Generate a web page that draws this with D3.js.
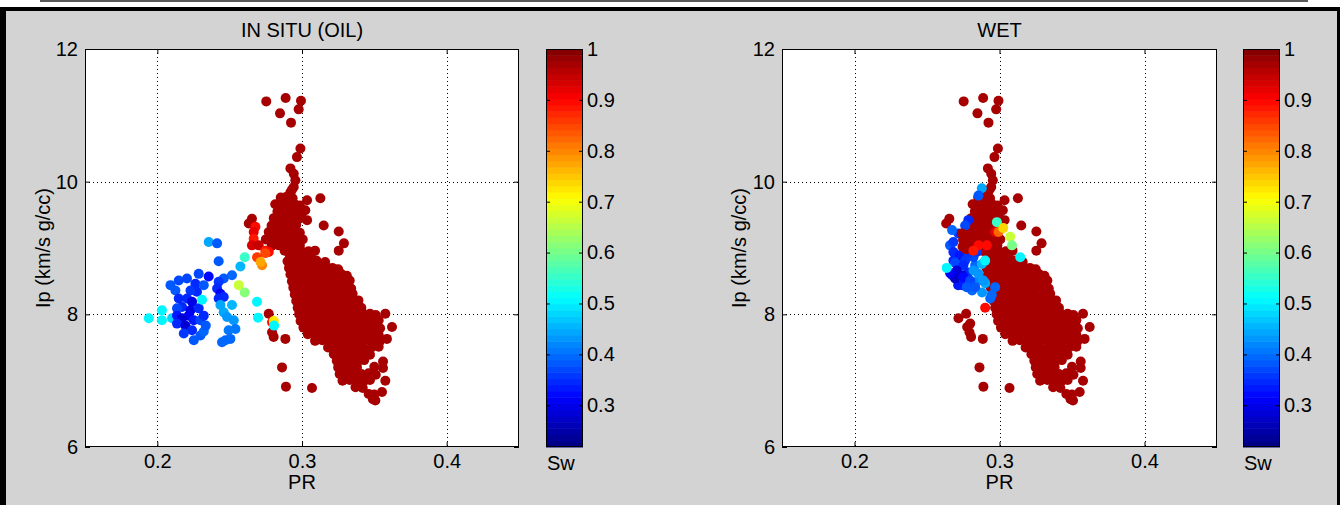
<!DOCTYPE html>
<html><head><meta charset="utf-8">
<script src="https://cdn.jsdelivr.net/npm/d3@7"></script>
<style>
html,body{margin:0;padding:0;background:#fff;}
svg{display:block;}
text{font-family:"Liberation Sans",Arial,sans-serif;fill:#000;}
</style></head><body>
<svg id="chart" width="1340" height="505"></svg>
<script>
// ---------------- DATA ----------------
const panelTitles = ["IN SITU (OIL)", "WET"];
const xLabel = "PR";
const yLabel = "Ip (km/s g/cc)";
const cbLabel = "Sw";
const xDomain = [0.15, 0.45];
const yDomain = [6, 12];
const xTicks = [0.2, 0.3, 0.4];
const yTicks = [6, 8, 10, 12];
const yGrid = [8, 10];
const cbTicks = [0.3, 0.4, 0.5, 0.6, 0.7, 0.8, 0.9, 1];
const cbTickLabels = ["0.3", "0.4", "0.5", "0.6", "0.7", "0.8", "0.9", "1"];
const swRange = [0.218, 1];
const brineSw = 0.975;

// points shared by both panels (brine, Sw ~ 1): [PR, Ip]
const brinePoints = [
 [0.2753,11.21],[0.2887,11.26],[0.2993,11.22],[0.2977,11.09],[0.2848,11.03],[0.2924,10.89],
 [0.2989,10.50],[0.2965,10.37],[0.2920,10.20],[0.2943,10.12],[0.2954,10.02],[0.2943,9.92],[0.2920,9.84],[0.2931,9.88],
 [0.2853,9.76],[0.2890,9.77],[0.2935,9.75],
 [0.2815,9.66],[0.2860,9.67],[0.2905,9.65],[0.2950,9.66],[0.2985,9.64],
 [0.2830,9.55],[0.2875,9.56],[0.2920,9.54],[0.2965,9.55],[0.3000,9.53],
 [0.2805,9.45],[0.2850,9.46],[0.2895,9.44],[0.2940,9.45],[0.2980,9.44],
 [0.2790,9.34],[0.2835,9.35],[0.2880,9.33],[0.2925,9.34],[0.2960,9.35],
 [0.2770,9.24],[0.2815,9.25],[0.2860,9.23],[0.2905,9.24],[0.2950,9.25],[0.2985,9.23],
 [0.2750,9.13],[0.2795,9.14],[0.2840,9.12],[0.2885,9.13],[0.2930,9.14],[0.2970,9.12],[0.3005,9.13],
 [0.2790,9.03],[0.2840,9.04],[0.2890,9.02],[0.2940,9.03],[0.2985,9.04],
 [0.2880,8.96],[0.2935,8.95],[0.2990,8.97],[0.3045,8.95],[0.3090,8.96],
 [0.3035,9.72],[0.3127,9.75],[0.3023,9.57],[0.3035,9.42],[0.3150,9.34],[0.3254,9.25],[0.3290,9.07],[0.3254,8.96],
 [0.2654,9.44],[0.2632,9.37],
 [0.2915,8.90],[0.2965,8.91],[0.3015,8.89],[0.3060,8.90],
 [0.2900,8.80],[0.2950,8.81],[0.3000,8.79],[0.3050,8.80],[0.3100,8.81],[0.3160,8.79],
 [0.2910,8.70],[0.2960,8.71],[0.3010,8.69],[0.3060,8.70],[0.3110,8.71],[0.3160,8.69],[0.3210,8.70],[0.3250,8.68],
 [0.2920,8.60],[0.2970,8.61],[0.3020,8.59],[0.3070,8.60],[0.3120,8.61],[0.3170,8.59],[0.3220,8.60],[0.3270,8.61],[0.3310,8.58],
 [0.2930,8.50],[0.2980,8.49],[0.3030,8.51],[0.3080,8.50],[0.3130,8.49],[0.3180,8.51],[0.3230,8.50],[0.3280,8.49],[0.3330,8.51],
 [0.2940,8.40],[0.2990,8.41],[0.3040,8.39],[0.3090,8.40],[0.3140,8.41],[0.3190,8.39],[0.3240,8.40],[0.3290,8.41],[0.3340,8.39],
 [0.2950,8.30],[0.3000,8.29],[0.3050,8.31],[0.3100,8.30],[0.3150,8.29],[0.3200,8.31],[0.3250,8.30],[0.3300,8.29],[0.3350,8.31],
 [0.2960,8.20],[0.3010,8.21],[0.3060,8.19],[0.3110,8.20],[0.3160,8.21],[0.3210,8.19],[0.3260,8.20],[0.3310,8.21],[0.3360,8.19],[0.3390,8.21],
 [0.2970,8.10],[0.3020,8.09],[0.3070,8.11],[0.3120,8.10],[0.3170,8.09],[0.3220,8.11],[0.3270,8.10],[0.3320,8.09],[0.3370,8.11],[0.3410,8.10],
 [0.2980,8.00],[0.3030,8.01],[0.3080,7.99],[0.3130,8.00],[0.3180,8.01],[0.3230,7.99],[0.3280,8.00],[0.3330,8.01],[0.3380,7.99],[0.3430,8.00],[0.3470,8.01],[0.3510,7.99],
 [0.2990,7.90],[0.3040,7.89],[0.3090,7.91],[0.3140,7.90],[0.3190,7.89],[0.3240,7.91],[0.3290,7.90],[0.3340,7.89],[0.3390,7.91],[0.3440,7.90],[0.3490,7.89],[0.3530,7.91],
 [0.3010,7.80],[0.3060,7.81],[0.3110,7.79],[0.3160,7.80],[0.3210,7.81],[0.3260,7.79],[0.3310,7.80],[0.3360,7.81],[0.3410,7.79],[0.3460,7.80],[0.3500,7.81],[0.3540,7.79],
 [0.3040,7.70],[0.3090,7.69],[0.3140,7.71],[0.3190,7.70],[0.3240,7.69],[0.3290,7.71],[0.3340,7.70],[0.3390,7.69],[0.3440,7.71],[0.3490,7.70],[0.3530,7.69],
 [0.3090,7.60],[0.3140,7.61],[0.3190,7.59],[0.3240,7.60],[0.3290,7.61],[0.3340,7.59],[0.3390,7.60],[0.3440,7.61],[0.3490,7.59],[0.3540,7.60],
 [0.3180,7.50],[0.3230,7.51],[0.3280,7.49],[0.3330,7.50],[0.3380,7.51],[0.3430,7.49],[0.3480,7.50],[0.3530,7.51],
 [0.3220,7.40],[0.3270,7.41],[0.3320,7.39],[0.3370,7.40],[0.3420,7.41],[0.3470,7.39],
 [0.3240,7.30],[0.3290,7.31],[0.3340,7.29],[0.3390,7.30],[0.3430,7.31],[0.3560,7.29],
 [0.3250,7.20],[0.3300,7.21],[0.3350,7.19],[0.3380,7.20],[0.3500,7.21],[0.3560,7.19],
 [0.3260,7.10],[0.3310,7.11],[0.3360,7.09],[0.3410,7.10],[0.3460,7.11],[0.3510,7.09],
 [0.3280,7.00],[0.3330,7.01],[0.3380,6.99],[0.3430,7.00],[0.3470,7.01],[0.3576,7.00],
 [0.3370,6.90],[0.3420,6.89],[0.3553,6.83],
 [0.3461,6.80],[0.3500,6.79],
 [0.3490,6.72],[0.3507,6.70],
 [0.3576,8.01],[0.3622,7.81],[0.3587,7.63],[0.3288,8.56],
 [0.2770,8.01],[0.2793,7.73],[0.2804,7.66],[0.2885,7.63],[0.2862,7.20],[0.2889,6.91],[0.3069,6.89],[0.2943,8.44]
];

// in-situ (oil) panel only: [PR, Ip, Sw]
const oilPoints = [
 [0.1941,7.94,0.50],[0.2032,8.06,0.50],[0.2032,7.91,0.50],[0.2102,7.94,0.48],
 [0.2148,8.51,0.37],[0.2205,8.54,0.37],[0.2263,8.46,0.35],[0.2274,8.34,0.35],[0.2125,8.36,0.38],
 [0.2091,8.44,0.38],[0.2229,8.36,0.36],[0.2321,8.44,0.38],
 [0.2148,8.24,0.35],[0.2205,8.24,0.35],[0.2240,8.19,0.30],[0.2171,8.11,0.35],[0.2229,8.06,0.30],
 [0.2136,8.09,0.37],[0.2217,7.98,0.31],[0.2136,7.98,0.34],
 [0.2286,8.09,0.35],[0.2171,7.94,0.28],[0.2136,7.86,0.35],[0.2194,7.83,0.29],[0.2252,7.91,0.33],
 [0.2298,7.91,0.37],[0.2240,7.76,0.35],[0.2298,7.68,0.38],[0.2321,7.98,0.35],[0.2321,7.74,0.39],
 [0.2252,7.61,0.38],[0.2335,7.83,0.38],[0.2183,7.71,0.36],
 [0.2309,8.22,0.50],
 [0.2286,8.61,0.37],[0.2355,8.57,0.32],[0.2355,9.09,0.44],[0.2413,9.07,0.38],[0.2424,8.80,0.38],
 [0.2516,8.59,0.40],[0.2459,8.54,0.38],[0.2424,8.49,0.36],[0.2413,8.39,0.35],[0.2436,8.31,0.31],
 [0.2424,8.24,0.35],[0.2459,8.26,0.35],[0.2436,8.14,0.44],[0.2516,8.14,0.46],[0.2459,8.03,0.44],
 [0.2482,7.96,0.43],[0.2528,7.91,0.43],[0.2540,7.78,0.41],[0.2493,7.76,0.41],[0.2505,7.63,0.40],
 [0.2447,7.58,0.39],[0.2471,7.61,0.39],
 [0.2574,8.72,0.46],[0.2604,8.86,0.55],[0.2563,8.44,0.66],[0.2604,8.33,0.61],[0.2689,8.19,0.51],[0.2696,7.95,0.50],
 [0.2678,9.32,0.90],[0.2666,9.24,0.92],[0.2666,9.14,0.88],[0.2654,9.04,0.93],[0.2701,9.04,0.95],
 [0.2747,8.96,0.88],[0.2770,8.94,0.90],[0.2747,8.92,0.85],[0.2689,8.86,0.86],[0.2724,8.74,0.80],[0.2713,8.79,0.77],
 [0.2793,7.88,0.90],[0.2805,7.90,0.72],[0.2807,7.83,0.50]
];

// wet panel only: [PR, Ip, Sw]
const wetPoints = [
 [0.2878,9.90,0.44],[0.2855,9.79,0.38],[0.2785,9.42,0.35],[0.2763,9.34,0.37],[0.2717,9.22,0.36],
 [0.2673,9.27,0.39],[0.2659,9.04,0.38],
 [0.2682,9.09,0.36],[0.2682,8.94,0.35],[0.2682,8.81,0.35],[0.2724,8.89,0.33],[0.2731,8.77,0.31],
 [0.2694,8.78,0.37],[0.2763,8.81,0.36],[0.2832,8.74,0.39],[0.2673,8.59,0.35],[0.2742,8.44,0.35],
 [0.2811,8.36,0.40],[0.2880,8.33,0.43],[0.2901,8.47,0.45],[0.2853,8.51,0.42],[0.2784,8.63,0.35],
 [0.2715,8.44,0.33],[0.2694,8.54,0.27],[0.2742,8.59,0.29],
 [0.2751,8.74,0.35],[0.2706,8.66,0.29],[0.2660,8.62,0.31],[0.2751,8.56,0.32],
 [0.2798,8.51,0.37],[0.2774,8.41,0.38],[0.2832,8.41,0.38],[0.2820,8.66,0.43],[0.2855,8.61,0.43],
 [0.2889,8.51,0.43],[0.2878,8.76,0.46],[0.2901,8.81,0.50],[0.2820,8.86,0.37],[0.2786,8.92,0.36],
 [0.2844,8.94,0.36],[0.2970,8.41,0.39],[0.2947,8.29,0.39],[0.2936,8.24,0.40],[0.2636,8.70,0.50],
 [0.2740,9.22,0.975],[0.2750,9.12,0.975],[0.2745,9.02,0.975],[0.2770,8.98,0.975],[0.2790,9.05,0.975],
 [0.2810,8.98,0.975],
 [0.2855,9.04,0.90],[0.2913,9.04,0.90],[0.2820,8.96,0.88],[0.2901,8.10,0.90],
 [0.2982,9.39,0.55],[0.2970,9.24,0.92],[0.2993,9.24,0.82],[0.3026,9.30,0.74],[0.3074,9.17,0.66],
 [0.3086,9.04,0.60],[0.3143,8.86,0.50],
 [0.2717,7.94,0.975],[0.2798,7.86,0.975],[0.2777,7.81,0.975]
];

// ---------------- LAYOUT ----------------
const W = 1340, H = 505;
const plotTop = 49, plotBottom = 447, cbW = 37, markerR = 5;
const bg = "#d3d3d3";
const panels = [
  {title: panelTitles[0], x0: 85,  x1: 519,  cbX: 546,  ylabX: 50,  pts: oilPoints},
  {title: panelTitles[1], x0: 782, x1: 1217, cbX: 1243, ylabX: 746, pts: wetPoints}
];

function clamp(v){ return Math.max(0, Math.min(1, v)); }
function jet(t){
  const r = clamp(Math.min(4*t-1.5, -4*t+4.5));
  const g = clamp(Math.min(4*t-0.5, -4*t+3.5));
  const b = clamp(Math.min(4*t+0.5, -4*t+2.5));
  return d3.rgb(r*255, g*255, b*255).formatHex();
}
const nColors = 64;
function swColor(sw){
  const t = (sw - swRange[0]) / (swRange[1] - swRange[0]);
  const i = Math.max(0, Math.min(nColors-1, Math.floor(t*nColors)));
  return jet((i+0.5)/nColors);
}

const svg = d3.select("#chart");
// frame
svg.append("rect").attr("x",40).attr("y",0).attr("width",1268).attr("height",2).attr("fill","#5a5a5a");
svg.append("rect").attr("x",0).attr("y",7).attr("width",W).attr("height",H-7).attr("fill","#000");
svg.append("rect").attr("x",6).attr("y",11).attr("width",W-9).attr("height",H-11).attr("fill",bg);

const FONT = 20;

panels.forEach(p => {
  const x = d3.scaleLinear().domain(xDomain).range([p.x0, p.x1]);
  const y = d3.scaleLinear().domain(yDomain).range([plotBottom, plotTop]);
  const g = svg.append("g");

  g.append("rect").attr("x",p.x0).attr("y",plotTop).attr("width",p.x1-p.x0).attr("height",plotBottom-plotTop).attr("fill","#fff");

  // grid
  g.selectAll(null).data(xTicks).enter().append("line")
    .attr("x1",d=>Math.round(x(d))+0.5).attr("x2",d=>Math.round(x(d))+0.5)
    .attr("y1",plotTop).attr("y2",plotBottom)
    .attr("stroke","#000").attr("stroke-width",1).attr("stroke-dasharray","1,3");
  g.selectAll(null).data(yGrid).enter().append("line")
    .attr("y1",d=>Math.round(y(d))+0.5).attr("y2",d=>Math.round(y(d))+0.5)
    .attr("x1",p.x0).attr("x2",p.x1)
    .attr("stroke","#000").attr("stroke-width",1).attr("stroke-dasharray","1,3");

  // points
  g.append("g").selectAll("circle").data(brinePoints).enter().append("circle")
    .attr("cx",d=>x(d[0])).attr("cy",d=>y(d[1])).attr("r",markerR).attr("fill",swColor(brineSw));
  g.append("g").selectAll("circle").data(p.pts).enter().append("circle")
    .attr("cx",d=>x(d[0])).attr("cy",d=>y(d[1])).attr("r",markerR).attr("fill",d=>swColor(d[2]));

  // axes
  const styleAxis = sel => {
    sel.select(".domain").remove();
    sel.attr("font-size",FONT).attr("font-family","'Liberation Sans',Arial,sans-serif");
    sel.selectAll(".tick line").attr("stroke","#000");
    sel.selectAll(".tick text").attr("fill","#000");
  };
  g.append("g").attr("transform",`translate(0,${plotBottom})`)
    .call(d3.axisBottom(x).tickValues(xTicks).tickSizeInner(-5).tickSizeOuter(0).tickPadding(7).tickFormat(d3.format(".1f")))
    .call(styleAxis);
  g.append("g").attr("transform",`translate(0,${plotTop})`)
    .call(d3.axisTop(x).tickValues(xTicks).tickSizeInner(-5).tickSizeOuter(0).tickFormat(""))
    .call(styleAxis);
  g.append("g").attr("transform",`translate(${p.x0},0)`)
    .call(d3.axisLeft(y).tickValues(yTicks).tickSizeInner(-5).tickSizeOuter(0).tickPadding(7).tickFormat(d3.format("d")))
    .call(styleAxis);
  g.append("g").attr("transform",`translate(${p.x1},0)`)
    .call(d3.axisRight(y).tickValues(yTicks).tickSizeInner(-5).tickSizeOuter(0).tickFormat(""))
    .call(styleAxis);

  g.append("rect").attr("x",p.x0+0.5).attr("y",plotTop+0.5).attr("width",p.x1-p.x0-1).attr("height",plotBottom-plotTop-1)
    .attr("fill","none").attr("stroke","#000").attr("stroke-width",1);

  // labels
  g.append("text").attr("x",(p.x0+p.x1)/2).attr("y",37).attr("text-anchor","middle").attr("font-size",FONT).text(p.title);
  g.append("text").attr("x",(p.x0+p.x1)/2).attr("y",489).attr("text-anchor","middle").attr("font-size",FONT).text(xLabel);
  g.append("text").attr("transform",`translate(${p.ylabX},${(plotTop+plotBottom)/2}) rotate(-90)`)
    .attr("text-anchor","middle").attr("font-size",FONT).text(yLabel);

  // colorbar
  const cb = d3.scaleLinear().domain(swRange).range([plotBottom, plotTop]);
  const bands = d3.range(nColors).map(i => swRange[0] + (swRange[1]-swRange[0])*i/nColors);
  const step = (swRange[1]-swRange[0])/nColors;
  g.append("g").selectAll("rect").data(bands).enter().append("rect")
    .attr("x",p.cbX).attr("width",cbW)
    .attr("y",d=>cb(d+step)).attr("height",d=>cb(d)-cb(d+step)+0.5)
    .attr("fill",d=>swColor(d+step/2));
  g.append("g").attr("transform",`translate(${p.cbX+cbW},0)`)
    .call(d3.axisRight(cb).tickValues(cbTicks).tickSizeInner(-4).tickSizeOuter(0).tickPadding(4).tickFormat((d,i)=>cbTickLabels[i]))
    .call(styleAxis);
  g.append("g").attr("transform",`translate(${p.cbX},0)`)
    .call(d3.axisLeft(cb).tickValues(cbTicks).tickSizeInner(-4).tickSizeOuter(0).tickFormat(""))
    .call(styleAxis);
  g.append("rect").attr("x",p.cbX+0.5).attr("y",plotTop+0.5).attr("width",cbW-1).attr("height",plotBottom-plotTop-1)
    .attr("fill","none").attr("stroke","#000").attr("stroke-width",1);
  g.append("text").attr("x",p.cbX+1).attr("y",470).attr("font-size",FONT).text(cbLabel);
});
</script>
</body></html>
